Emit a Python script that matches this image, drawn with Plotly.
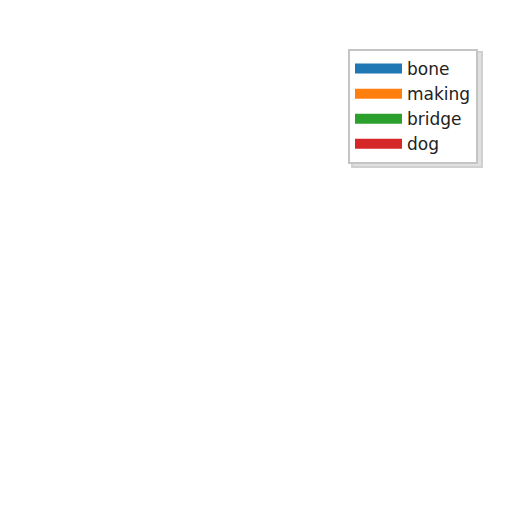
import plotly.graph_objects as go

labels = ["bone", "making", "bridge", "dog"]
colors = ["#1f77b4", "#ff7f0e", "#2ca02c", "#d62728"]

fig = go.Figure()
for name, col in zip(labels, colors):
    fig.add_trace(go.Scatter(
        x=[None], y=[None], mode="lines", name=name,
        line=dict(color=col, width=10),
    ))

# soft sketchy shadow just behind the legend box
fig.add_shape(
    type="rect", xref="paper", yref="paper",
    x0=344 / 512, x1=474 / 512, y0=1 - 159 / 512, y1=1 - 44 / 512,
    fillcolor="#e0e0e0", line=dict(color="#d0d0d0", width=2), layer="below",
)

fig.update_layout(
    width=512, height=512,
    margin=dict(l=0, r=0, t=0, b=0),
    paper_bgcolor="white", plot_bgcolor="white",
    xaxis=dict(visible=False),
    yaxis=dict(visible=False),
    showlegend=True,
    legend=dict(
        x=340 / 512, y=1 - 41 / 512, xanchor="left", yanchor="top",
        bgcolor="white", bordercolor="#c4c4c4", borderwidth=2,
        font=dict(family="DejaVu Sans", size=17, color="#222222"),
        traceorder="normal", itemwidth=47, entrywidth=89,
    ),
)

fig.write_html("out.html")
